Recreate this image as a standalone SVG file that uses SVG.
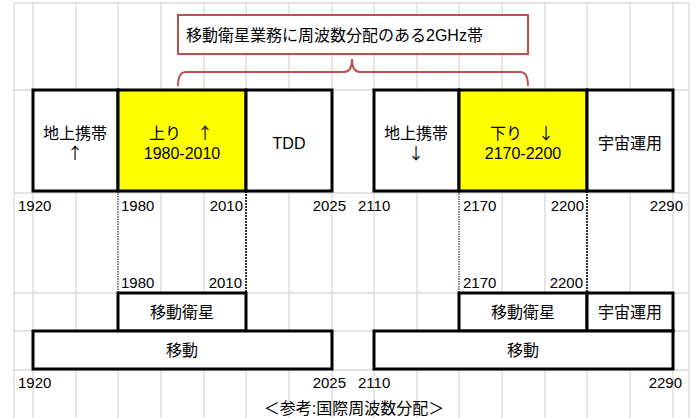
<svg xmlns="http://www.w3.org/2000/svg" width="698" height="418" viewBox="0 0 698 418">
<style>
.grid{stroke:#D9D9D9;stroke-width:1.3;fill:none}
.box{fill:#FFFFFF;stroke:#000000;stroke-width:3}
.yel{fill:#FFFF00;stroke:#000000;stroke-width:3}
.t{font-family:"Liberation Sans","Noto Sans CJK JP",sans-serif;font-size:16px;fill:#000000}
.n{font-family:"Liberation Sans","Noto Sans CJK JP",sans-serif;font-size:15px;fill:#000000}
.a{font-family:"Noto Sans CJK JP",sans-serif}
.c{text-anchor:middle}
.e{text-anchor:end}
.dot{stroke:#000000;fill:none}
</style>
<rect x="0" y="0" width="698" height="418" fill="#FFFFFF"/>
<g id="grid">
<path class="grid" d="M14,3V418M33,3V418M76,3V418M118,3V418M161,3V418M204,3V418M246,3V418M289,3V418M332,3V418M374,3V418M417,3V418M459,3V418M502,3V418M545,3V418M587,3V418M630,3V418M673,3V418M689,3V418"/>
<path class="grid" d="M14,3H689M14,90H689M14,193H689M14,293H689M14,331H689M14,370H689"/>
</g>
<g id="connectors">
<path d="M178,86 Q178,72 186,72 H344 Q352,72 352,59 Q352,72 360,72 H520 Q528,72 528,86" fill="none" stroke="#C0504D" stroke-width="2"/>
<rect x="116" y="193" width="4" height="100" fill="#FFFFFF"/>
<rect x="244" y="193" width="4" height="100" fill="#FFFFFF"/>
<rect x="457" y="193" width="4" height="100" fill="#FFFFFF"/>
<rect x="585" y="193" width="4" height="100" fill="#FFFFFF"/>
<path class="dot" d="M118,191V293M459,191V293" stroke-width="1" stroke-dasharray="1.5,1"/>
<path class="dot" d="M246,191V293M587,191V293" stroke-width="1.6" stroke-dasharray="2,1"/>
</g>
<g id="callout">
<rect x="178" y="15" width="350" height="39" fill="#FFFFFF" stroke="#C0504D" stroke-width="2"/>
<text class="t" x="186" y="41">移動衛星業務に周波数分配のある2GHz帯</text>
</g>
<g id="up-terrestrial">
<rect class="box" x="33" y="90" width="85" height="101"/>
<text class="t c" x="75" y="139">地上携帯</text>
<text class="t c a" x="75" y="159">↑</text>
</g>
<g id="uplink">
<rect class="yel" x="118" y="90" width="128" height="101"/>
<text class="t c" x="181" y="139">上り　<tspan class="a">↑</tspan></text>
<text class="t c" x="182" y="159">1980-2010</text>
</g>
<g id="tdd">
<rect class="box" x="246" y="90" width="86" height="101"/>
<text class="t c" x="289" y="149">TDD</text>
</g>
<g id="down-terrestrial">
<rect class="box" x="374" y="90" width="85" height="101"/>
<text class="t c" x="416" y="139">地上携帯</text>
<text class="t c a" x="416" y="159">↓</text>
</g>
<g id="downlink">
<rect class="yel" x="459" y="90" width="128" height="101"/>
<text class="t c" x="522" y="139">下り　<tspan class="a">↓</tspan></text>
<text class="t c" x="523" y="159">2170-2200</text>
</g>
<g id="space-ops-top">
<rect class="box" x="587" y="90" width="86" height="101"/>
<text class="t c" x="630" y="149">宇宙運用</text>
</g>
<g id="mss-left">
<rect class="box" x="118" y="293" width="128" height="38"/>
<text class="t c" x="182" y="318">移動衛星</text>
</g>
<g id="mss-right">
<rect class="box" x="459" y="293" width="128" height="38"/>
<text class="t c" x="523" y="318">移動衛星</text>
</g>
<g id="space-ops-bottom">
<rect class="box" x="587" y="293" width="86" height="38"/>
<text class="t c" x="630" y="318">宇宙運用</text>
</g>
<g id="mobile-left">
<rect class="box" x="33" y="331" width="299" height="38"/>
<text class="t c" x="182" y="356">移動</text>
</g>
<g id="mobile-right">
<rect class="box" x="374" y="331" width="299" height="38"/>
<text class="t c" x="523" y="356">移動</text>
</g>
<g id="labels">
<text class="n" x="18" y="211">1920</text>
<text class="n" x="121" y="211">1980</text>
<text class="n e" x="243" y="211">2010</text>
<text class="n e" x="346" y="211">2025</text>
<text class="n" x="358" y="211">2110</text>
<text class="n" x="463" y="211">2170</text>
<text class="n e" x="584" y="211">2200</text>
<text class="n e" x="683" y="211">2290</text>
<text class="n" x="121" y="288">1980</text>
<text class="n e" x="242" y="288">2010</text>
<text class="n" x="463" y="288">2170</text>
<text class="n e" x="583" y="288">2200</text>
<text class="n" x="18" y="388">1920</text>
<text class="n e" x="346" y="388">2025</text>
<text class="n" x="358" y="388">2110</text>
<text class="n e" x="682" y="388">2290</text>
<text class="t c" x="354" y="414">＜参考:国際周波数分配＞</text>
</g>
</svg>
